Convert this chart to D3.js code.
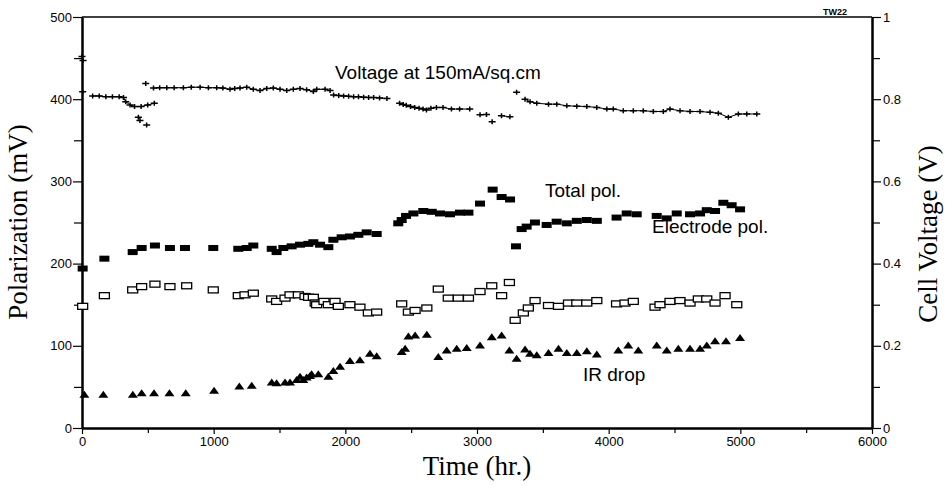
<!DOCTYPE html>
<html>
<head>
<meta charset="utf-8">
<script src="https://cdn.jsdelivr.net/npm/d3@7"></script>
<style>
body{margin:0;background:#fff;}
svg{display:block;}
.tick text{font-family:"Liberation Sans",Arial,sans-serif;font-size:13px;}
.lbl{font-family:"Liberation Sans",Arial,sans-serif;font-size:19px;}
.ttl{font-family:"Liberation Serif","Times New Roman",serif;font-size:27px;}
</style>
</head>
<body>
<svg width="949" height="486"></svg>
<script>
// values: [time (hr), value]
// cell voltage in V, null = break in the line
var voltage = [
	[0,0.904],null,[8,0.894],null,[5,0.818],null,
	[81,0.808],[131,0.808],[181,0.806],[231,0.806],[282,0.806],[315,0.804],[332,0.794],[365,0.786],[399,0.782],[449,0.782],[499,0.786],[549,0.790],null,
	[428,0.756],null,[440,0.748],null,[491,0.737],null,[484,0.838],null,
	[543,0.827],[590,0.828],[644,0.828],[700,0.828],[770,0.828],[830,0.829],[897,0.829],[960,0.828],[1023,0.828],[1070,0.827],[1124,0.824],[1160,0.826],[1200,0.827],[1251,0.829],[1301,0.824],[1352,0.821],[1403,0.826],[1453,0.827],[1504,0.824],[1555,0.821],[1605,0.824],[1656,0.826],[1706,0.823],[1757,0.819],[1783,0.824],[1846,0.824],[1884,0.821],null,
	[1911,0.810],[1950,0.809],[1987,0.808],[2025,0.807],[2063,0.806],[2100,0.806],[2139,0.805],[2177,0.804],[2215,0.804],[2260,0.803],[2316,0.802],null,
	[2412,0.790],[2440,0.787],[2463,0.785],[2495,0.782],[2527,0.780],[2560,0.778],[2590,0.776],[2616,0.774],[2650,0.778],[2692,0.780],[2742,0.780],[2806,0.776],[2868,0.776],[2945,0.776],null,
	[3023,0.762],[3072,0.763],null,[3115,0.745],null,[3186,0.760],[3250,0.757],null,[3301,0.817],null,
	[3365,0.800],[3403,0.794],[3454,0.790],[3543,0.788],[3606,0.788],[3682,0.784],[3758,0.783],[3834,0.782],[3910,0.780],[3986,0.776],[4035,0.776],[4111,0.772],[4187,0.772],[4263,0.772],[4339,0.770],[4415,0.770],[4466,0.776],[4542,0.772],[4618,0.770],[4694,0.770],[4770,0.768],[4833,0.766],[4909,0.756],[4985,0.764],[5049,0.764],[5125,0.764]
];

// polarization in mV
var totalPol = [[5,194],[170,206],[385,214],[453,219],[554,222],[668,219],[782,219],[997,219],[1187,218],[1251,219],[1301,222],[1441,218],[1478,214],[1529,219],[1592,221],[1656,223],[1719,224],[1757,226],[1808,223],[1871,220],[1909,229],[1972,232],[2035,233],[2099,235],[2162,238],[2238,236],[2402,249],[2428,253],[2461,258],[2517,261],[2592,264],[2656,263],[2719,261],[2795,260],[2871,262],[2935,262],[3023,273],[3119,290],[3187,281],[3251,278],[3296,221],[3339,242],[3377,245],[3440,250],[3529,247],[3605,251],[3682,249],[3758,252],[3834,253],[3910,252],[4060,256],[4137,261],[4213,260],[4365,258],[4441,255],[4517,261],[4618,260],[4694,261],[4745,265],[4808,264],[4871,274],[4934,271],[4998,266]];

var electrodePol = [[5,148],[170,161],[385,168],[453,172],[554,175],[668,172],[795,173],[997,168],[1187,161],[1238,162],[1301,164],[1441,157],[1478,154],[1542,158],[1580,162],[1643,162],[1694,160],[1721,159],[1757,159],[1771,152],[1782,150],[1838,154],[1871,150],[1922,154],[1947,148],[2035,150],[2111,147],[2175,140],[2238,141],[2428,151],[2479,141],[2530,143],[2619,146],[2706,169],[2782,158],[2858,158],[2935,158],[3023,166],[3112,173],[3187,161],[3246,177],[3290,131],[3352,140],[3390,146],[3441,155],[3543,149],[3619,148],[3695,152],[3758,152],[3834,152],[3910,155],[4060,151],[4124,152],[4187,154],[4352,147],[4390,150],[4466,154],[4542,155],[4618,152],[4681,157],[4745,157],[4808,152],[4884,161],[4973,150]];

var irDrop = [[18,41],[162,41],[386,41],[453,43],[547,43],[664,43],[788,43],[1003,46],[1195,51],[1289,52],[1441,56],[1478,55],[1542,56],[1580,56],[1630,59],[1656,63],[1681,59],[1706,62],[1732,64],[1744,66],[1795,66],[1871,63],[1909,70],[1960,75],[2035,82],[2111,83],[2187,91],[2238,88],[2428,93],[2454,97],[2479,112],[2530,113],[2619,114],[2706,87],[2770,95],[2846,97],[2922,98],[3023,101],[3112,111],[3187,113],[3246,95],[3301,85],[3365,96],[3403,91],[3454,89],[3543,92],[3619,97],[3682,92],[3758,92],[3834,94],[3910,90],[4073,95],[4149,101],[4225,95],[4365,101],[4441,95],[4529,97],[4618,97],[4694,97],[4745,101],[4808,106],[4891,106],[4998,110]];

var xTicks = [0,1000,2000,3000,4000,5000,6000];
var xMinor = [500,1500,2500,3500,4500,5500];
var yTicks = [0,100,200,300,400,500];
var yMinor = [50,150,250,350,450];
var y2Ticks = [0,0.2,0.4,0.6,0.8,1];
var y2Minor = [0.1,0.3,0.5,0.7,0.9];

var svg = d3.select('svg');

var margins = {left:82, right:77, top:17, bottom:58};
var W = 949, H = 486;

var x = d3.scaleLinear().domain([0,6000]).range([margins.left, W-margins.right]);
var y = d3.scaleLinear().domain([0,500]).range([H-margins.bottom, margins.top]);
var y2 = d3.scaleLinear().domain([0,1]).range([H-margins.bottom, margins.top]);

var bottom = H-margins.bottom;

// axes
svg.append('g').attr('transform','translate(0,'+bottom+')')
	.call(d3.axisBottom(x).tickValues(xTicks).tickSize(6).tickPadding(3).tickSizeOuter(0).tickFormat(d3.format('d')));
svg.append('g').attr('transform','translate(0,'+bottom+')')
	.call(d3.axisBottom(x).tickValues(xMinor).tickSize(5).tickFormat('').tickSizeOuter(0));

svg.append('g').attr('transform','translate('+margins.left+',0)')
	.call(d3.axisLeft(y).tickValues(yTicks).tickSize(9).tickPadding(1).tickSizeOuter(0));
svg.append('g').attr('transform','translate('+margins.left+',0)')
	.call(d3.axisLeft(y).tickValues(yMinor).tickSize(8).tickFormat('').tickSizeOuter(0));

svg.append('g').attr('transform','translate('+(W-margins.right)+',0)')
	.call(d3.axisRight(y2).tickValues(y2Ticks).tickSize(9).tickPadding(2).tickSizeOuter(0)
		.tickFormat(function(d){ return (d==0||d==1) ? d : d.toFixed(1); }));
svg.append('g').attr('transform','translate('+(W-margins.right)+',0)')
	.call(d3.axisRight(y2).tickValues(y2Minor).tickSize(8).tickFormat('').tickSizeOuter(0));

svg.selectAll('.domain').attr('stroke','#000').attr('stroke-width',2);
svg.selectAll('.tick line').attr('stroke','#000').attr('stroke-width',1.2);
svg.selectAll('.tick text').attr('fill','#000');

// top frame line
svg.append('line')
	.attr('x1',margins.left).attr('x2',W-margins.right)
	.attr('y1',margins.top).attr('y2',margins.top)
	.attr('stroke','#000').attr('stroke-width',1.3);

// voltage: line pieces + crosses
var vline = d3.line()
	.defined(function(d){ return d != null; })
	.x(function(d){ return x(d[0]); })
	.y(function(d){ return y2(d[1]); });

svg.append('path').datum(voltage)
	.attr('d',vline)
	.attr('fill','none')
	.attr('stroke','#000')
	.attr('stroke-width',1);

svg.selectAll('.vcross').data(voltage.filter(function(d){ return d != null; })).enter().append('path')
	.attr('transform',function(d){ return 'translate('+x(d[0])+','+y2(d[1])+')'; })
	.attr('d','M-3.5,0H3.5M0,-2.5V2.5')
	.attr('stroke','#000')
	.attr('stroke-width',1.5);

// total pol. filled bars
svg.selectAll('.tot').data(totalPol).enter().append('rect')
	.attr('x',function(d){ return x(d[0])-5; })
	.attr('y',function(d){ return y(d[1])-3; })
	.attr('width',10)
	.attr('height',6)
	.attr('fill','#000');

// electrode pol. open boxes
svg.selectAll('.elec').data(electrodePol).enter().append('rect')
	.attr('x',function(d){ return x(d[0])-5; })
	.attr('y',function(d){ return y(d[1])-3; })
	.attr('width',10)
	.attr('height',6)
	.attr('fill','#fff')
	.attr('stroke','#000')
	.attr('stroke-width',1.3);

// IR drop triangles
svg.selectAll('.ir').data(irDrop).enter().append('path')
	.attr('transform',function(d){ return 'translate('+x(d[0])+','+y(d[1])+')'; })
	.attr('d','M-5,3.5L0,-3.5L5,3.5Z')
	.attr('fill','#000');

// labels
svg.append('text').classed('lbl',true).attr('x',335).attr('y',79).text('Voltage at 150mA/sq.cm');
svg.append('text').classed('lbl',true).attr('x',545).attr('y',197).text('Total pol.');
svg.append('text').classed('lbl',true).attr('x',652).attr('y',233).text('Electrode pol.');
svg.append('text').classed('lbl',true).attr('x',583).attr('y',381).text('IR drop');
svg.append('text').attr('x',823).attr('y',15)
	.style('font-family','"Liberation Sans",Arial,sans-serif')
	.style('font-size','9px').style('font-weight','bold')
	.text('TW22');

svg.append('text').classed('ttl',true)
	.attr('transform','translate(27,222) rotate(-90)')
	.attr('text-anchor','middle')
	.text('Polarization (mV)');
svg.append('text').classed('ttl',true)
	.attr('transform','translate(937,234) rotate(-90)')
	.attr('text-anchor','middle')
	.text('Cell Voltage (V)');
svg.append('text').classed('ttl',true)
	.attr('x',477).attr('y',475)
	.attr('text-anchor','middle')
	.text('Time (hr.)');
</script>
</body>
</html>
